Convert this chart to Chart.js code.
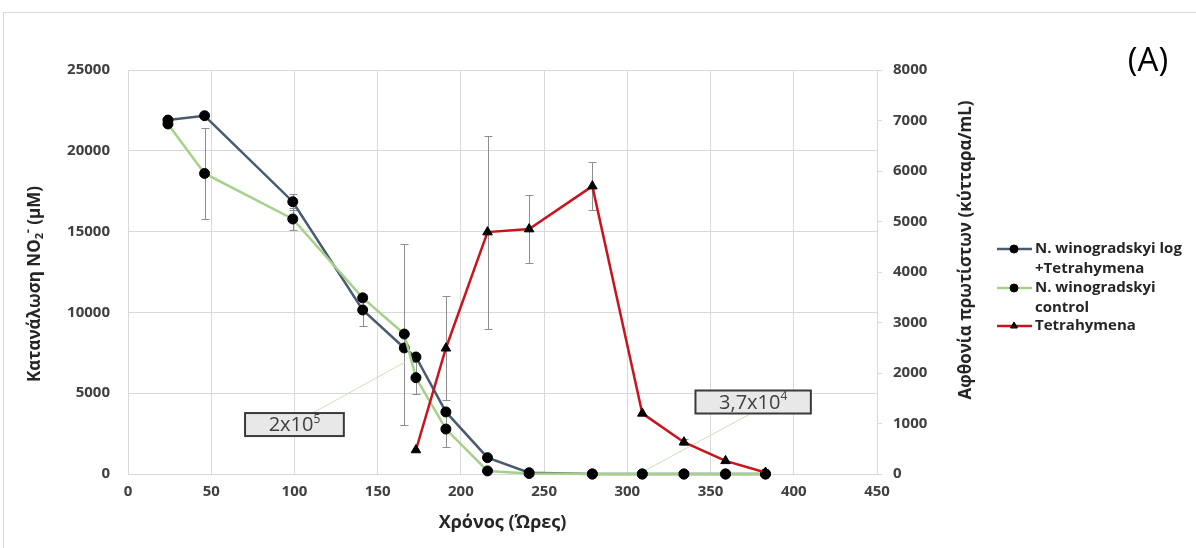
<!DOCTYPE html>
<html>
<head>
<meta charset="utf-8">
<title>Κατανάλωση NO2 - Tetrahymena</title>
<script src="https://cdn.jsdelivr.net/npm/chart.js@4.4.1/dist/chart.umd.min.js"></script>
<style>
	html, body { margin: 0; padding: 0; background: #fff; }
	#wrap { position: relative; width: 1196px; height: 548px; }
</style>
</head>
<body>
<div id="wrap"><canvas id="chart"></canvas></div>
<script>
// sampling times (hours)
const hours = [24, 46, 99, 141, 166, 173, 191, 216, 241, 279, 309, 334, 359, 383];
const hours_tet = [173, 191, 216, 241, 279, 309, 334, 359, 383];

// NO2- consumption (uM)
const log_tet = [21900, 22170, 16850, 10150, 7800, 7240, 3840, 1010, 80, 0, 0, 0, 0, 0];
const log_tet_err = [null, null, 500, 1000, null, null, null, null, null, null, null, null, null, null];
const control = [21660, 18600, 15780, 10900, 8660, 5960, 2780, 190, 30, 0, 0, 0, 0, 0];
const control_err = [null, 2800, 700, null, 5600, 1000, 1090, null, null, null, null, null, null, null];

// protist abundance (cells/mL)
const tet = [475, 2490, 4790, 4850, 5700, 1200, 630, 260, 30];
const tet_err = [null, 1030, 1910, 680, 470, null, 60, null, null];

// callouts: [label, superscript, center hours, center uM, line from, line to]
const notes = [
	['2x10', '5', 100, 3060, [111, 3775], [166.5, 6930]],
	['3,7x10', '4', 375.6, 4455, [373.8, 3713], [309, 124]]
];

const FONT = "'Open Sans', 'DejaVu Sans', sans-serif";
const GRID = '#d9d9d9';
const INK = '#262626';

const toXY = (xs, ys) => xs.map((x, i) => ({ x: x, y: ys[i] }));

// draws segments [text, size, dy, weight] centred on x
function richText(ctx, segs, x, y) {
	let w = 0;
	segs.forEach(s => {
		ctx.font = (s[3] || 'normal') + ' ' + s[1] + 'px ' + FONT;
		w += ctx.measureText(s[0]).width;
	});
	let cx = x - w / 2;
	ctx.textAlign = 'left';
	ctx.textBaseline = 'middle';
	segs.forEach(s => {
		ctx.font = (s[3] || 'normal') + ' ' + s[1] + 'px ' + FONT;
		ctx.fillText(s[0], cx, y + s[2]);
		cx += ctx.measureText(s[0]).width;
	});
	return w;
}

const errorBars = {
	id: 'errorBars',
	beforeDatasetsDraw(chart) {
		const ctx = chart.ctx;
		ctx.save();
		ctx.strokeStyle = '#8f8f8f';
		ctx.lineWidth = 1;
		chart.data.datasets.forEach(ds => {
			if (!ds.err) return;
			const sx = chart.scales.x;
			const sy = chart.scales[ds.yAxisID];
			ds.data.forEach((p, i) => {
				const e = ds.err[i];
				if (e == null) return;
				const px = Math.round(sx.getPixelForValue(p.x)) + 0.5;
				const top = Math.round(sy.getPixelForValue(p.y + e)) + 0.5;
				const bot = Math.round(sy.getPixelForValue(p.y - e)) + 0.5;
				ctx.beginPath();
				ctx.moveTo(px, top); ctx.lineTo(px, bot);
				ctx.moveTo(px - 4, top); ctx.lineTo(px + 4, top);
				ctx.moveTo(px - 4, bot); ctx.lineTo(px + 4, bot);
				ctx.stroke();
			});
		});
		ctx.restore();
	}
};

const decor = {
	id: 'decor',
	beforeDraw(chart) {
		const ctx = chart.ctx;
		ctx.save();
		ctx.strokeStyle = GRID;
		ctx.lineWidth = 1;
		ctx.strokeRect(3.5, 12.5, 1300, 700);
		ctx.restore();
	},
	beforeDatasetsDraw(chart) {
		const ctx = chart.ctx;
		const sx = chart.scales.x, sy = chart.scales.y;
		ctx.save();
		ctx.strokeStyle = '#c9e2b8';
		ctx.lineWidth = 1;
		notes.forEach(n => {
			ctx.beginPath();
			ctx.moveTo(sx.getPixelForValue(n[4][0]), sy.getPixelForValue(n[4][1]));
			ctx.lineTo(sx.getPixelForValue(n[5][0]), sy.getPixelForValue(n[5][1]));
			ctx.stroke();
		});
		ctx.restore();
	},
	afterDraw(chart) {
		const ctx = chart.ctx;
		const sx = chart.scales.x, sy = chart.scales.y;
		ctx.save();

		// callout boxes
		notes.forEach(n => {
			const cx = sx.getPixelForValue(n[2]);
			const cy = sy.getPixelForValue(n[3]);
			ctx.font = 'normal 20px ' + FONT;
			const w = ctx.measureText(n[0]).width + 54;
			ctx.fillStyle = '#e8e8e8';
			ctx.fillRect(cx - w / 2, cy - 11.5, w, 23);
			ctx.strokeStyle = '#3a3a3a';
			ctx.lineWidth = 2;
			ctx.strokeRect(cx - w / 2, cy - 11.5, w, 23);
			ctx.fillStyle = '#404040';
			richText(ctx, [[n[0], 20, 1], [n[1], 12, -5]], cx, cy);
		});

		// axis titles (both read bottom-to-top)
		ctx.fillStyle = INK;
		ctx.save();
		ctx.translate(35, 284);
		ctx.rotate(-Math.PI / 2);
		richText(ctx, [
			['Κατανάλωση NO', 17, 0, 'bold'],
			['2', 11, 5, 'bold'],
			['-', 12, -6, 'bold'],
			[' (μM)', 17, 0, 'bold']
		], 0, 0);
		ctx.restore();

		ctx.save();
		ctx.translate(966, 250);
		ctx.rotate(-Math.PI / 2);
		richText(ctx, [['Αφθονία πρωτίστων (κύτταρα/mL)', 17, 0, 'bold']], 0, 0);
		ctx.restore();

		// panel letter
		ctx.fillStyle = '#000';
		richText(ctx, [['(A)', 33, 0]], 1148, 62);

		// legend
		const rows = [
			[0, ['N. winogradskyi log', '+Tetrahymena'], 249],
			[1, ['N. winogradskyi', 'control'], 288],
			[2, ['Tetrahymena'], 326]
		];
		rows.forEach(r => {
			const ds = chart.data.datasets[r[0]];
			ctx.strokeStyle = ds.borderColor;
			ctx.lineWidth = 2.5;
			ctx.beginPath();
			ctx.moveTo(997, r[2]);
			ctx.lineTo(1032, r[2]);
			ctx.stroke();
			ctx.fillStyle = '#000';
			ctx.strokeStyle = '#000';
			ctx.lineWidth = 1;
			Chart.helpers.drawPoint(ctx, { pointStyle: ds.pointStyle || 'circle', radius: 4, rotation: 0, borderWidth: 1 }, 1014, r[2]);
			ctx.fillStyle = INK;
			ctx.font = 'bold 15px ' + FONT;
			ctx.textAlign = 'left';
			ctx.textBaseline = 'middle';
			r[1].forEach((t, k) => ctx.fillText(t, 1035, r[2] + k * 19.5));
		});

		ctx.restore();
	}
};

const tickFont = { family: FONT, size: 15, weight: 'bold' };
const plain = v => String(v);

new Chart(document.getElementById('chart'), {
	type: 'line',
	data: {
		datasets: [{
			label: 'N. winogradskyi log +Tetrahymena',
			data: toXY(hours, log_tet),
			err: log_tet_err,
			yAxisID: 'y',
			borderColor: '#4a5a70',
			pointBackgroundColor: '#000',
			pointBorderColor: '#000',
			order: 2
		}, {
			label: 'N. winogradskyi control',
			data: toXY(hours, control),
			err: control_err,
			yAxisID: 'y',
			borderColor: '#a6d18a',
			pointBackgroundColor: '#000',
			pointBorderColor: '#000',
			order: 1
		}, {
			label: 'Tetrahymena',
			data: toXY(hours_tet, tet),
			err: tet_err,
			yAxisID: 'y1',
			borderColor: '#c8141c',
			pointBackgroundColor: '#000',
			pointBorderColor: '#000',
			pointStyle: 'triangle',
			pointRadius: 5.5,
			order: 0
		}]
	},
	options: {
		responsive: true,
		maintainAspectRatio: false,
		animation: false,
		events: [],
		layout: { padding: { top: 70, left: 0, right: 0, bottom: 0 } },
		elements: {
			line: { borderWidth: 2.5, tension: 0 },
			point: { pointStyle: 'circle', radius: 5, borderWidth: 1 }
		},
		datasets: { line: { clip: false } },
		plugins: { legend: { display: false }, tooltip: { enabled: false } },
		scales: {
			x: {
				type: 'linear',
				min: 0,
				max: 450,
				ticks: { stepSize: 50, font: tickFont, color: '#404040', padding: 9, maxRotation: 0, callback: plain },
				grid: { color: GRID, drawTicks: false },
				border: { color: GRID },
				title: { display: true, text: 'Χρόνος (Ώρες)', font: { family: FONT, size: 18, weight: 'bold' }, color: INK, padding: { top: 0, bottom: 14 } },
				afterFit: s => { s.height = 74; }
			},
			y: {
				position: 'left',
				min: 0,
				max: 25000,
				ticks: { stepSize: 5000, font: tickFont, color: '#404040', padding: 18, callback: plain },
				grid: { color: GRID, drawTicks: false },
				border: { color: GRID },
				afterFit: s => { s.width = 128; }
			},
			y1: {
				position: 'right',
				min: 0,
				max: 8000,
				ticks: { stepSize: 1000, font: tickFont, color: '#404040', padding: 11, callback: plain },
				grid: { drawOnChartArea: false, color: GRID, tickLength: 5 },
				border: { color: GRID },
				afterFit: s => { s.width = 319; }
			}
		}
	},
	plugins: [errorBars, decor]
});
</script>
</body>
</html>
